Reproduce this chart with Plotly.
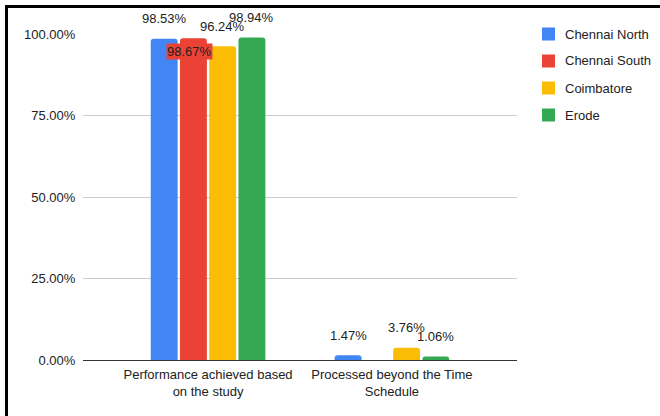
import plotly.graph_objects as go

# Categories and series
categories = ["Performance achieved based<br>on the study", "Processed beyond the Time<br>Schedule"]
series_names = ["Chennai North", "Chennai South", "Coimbatore", "Erode"]
chennai_north = [0.9853, 0.0147]
chennai_south = [0.9867, 0.0]
coimbatore = [0.9624, 0.0376]
erode = [0.9894, 0.0106]

series_values = [chennai_north, chennai_south, coimbatore, erode]
colors = ["#4285F4", "#EA4335", "#FBBC04", "#34A853"]

FONT = "Liberation Sans, Arial, sans-serif"
TEXT = "#222222"
BARGAP = 0.364
N = len(series_names)

# Plot-area geometry in pixels (used to place the frame and legend)
W, H = 660, 416
L, R, T, B = 83, 143, 34, 56
PW, PH = W - L - R, H - T - B


def px_x(px):
    return (px - L) / PW


def px_y(py):
    return (H - B - py) / PH


fig = go.Figure()
for name, vals, col in zip(series_names, series_values, colors):
    fig.add_trace(go.Bar(
        x=categories, y=vals, name=name,
        marker=dict(color=col, cornerradius=3, line=dict(width=0)),
        hoverinfo="skip", showlegend=False,
    ))

# Value labels above each bar (the Chennai South label sits inside its bar)
slot = (1 - BARGAP) / N
annotations = []
for si, (vals, col) in enumerate(zip(series_values, colors)):
    for ci, v in enumerate(vals):
        if v == 0:
            continue
        xpos = ci + (si - (N - 1) / 2) * slot
        inside = series_names[si] == "Chennai South"
        annotations.append(dict(
            x=xpos, y=v, xref="x", yref="y",
            text=f"{v*100:.2f}%", showarrow=False,
            yanchor="middle", xanchor="center",
            yshift=-13 if inside else 20,
            xshift=-4 if inside else 0,
            font=dict(family=FONT, size=13, color=TEXT),
            bgcolor=col if inside else None, borderpad=0,
        ))

# Frame on the left and top edges of the page
shapes = [
    dict(type="line", xref="paper", yref="paper",
         x0=px_x(6.5), x1=px_x(680), y0=px_y(6.5), y1=px_y(6.5),
         line=dict(color="black", width=3)),
    dict(type="line", xref="paper", yref="paper",
         x0=px_x(6.5), x1=px_x(6.5), y0=px_y(5), y1=px_y(430),
         line=dict(color="black", width=3)),
]

# Legend: colour swatch plus series name, one row per series
LEG_X, LEG_Y0, LEG_DY, SW = 542, 34, 27, 13
for i, (name, col) in enumerate(zip(series_names, colors)):
    cy = LEG_Y0 + i * LEG_DY
    shapes.append(dict(
        type="rect", xref="paper", yref="paper",
        x0=px_x(LEG_X), x1=px_x(LEG_X + SW),
        y0=px_y(cy + SW / 2), y1=px_y(cy - SW / 2),
        fillcolor=col, line=dict(width=0),
    ))
    annotations.append(dict(
        x=px_x(LEG_X + SW + 8), y=px_y(cy), xref="paper", yref="paper",
        text=name, showarrow=False, xanchor="left", yanchor="middle",
        font=dict(family=FONT, size=13, color=TEXT),
    ))

fig.update_layout(
    width=W, height=H,
    margin=dict(l=L, r=R, t=T, b=B),
    paper_bgcolor="white", plot_bgcolor="white",
    barmode="group", bargap=BARGAP, bargroupgap=0.08,
    font=dict(family=FONT, size=13, color=TEXT),
    xaxis=dict(range=[-0.68, 1.68], showgrid=False,
               ticks="outside", ticklen=2, tickcolor="rgba(0,0,0,0)",
               tickfont=dict(size=13, color=TEXT), showline=False),
    yaxis=dict(range=[0, 1], dtick=0.25, tickformat=".2%",
               gridcolor="#CCCCCC", gridwidth=1,
               zeroline=True, zerolinecolor="#333333", zerolinewidth=1,
               ticks="outside", ticklen=4, tickcolor="rgba(0,0,0,0)",
               tickfont=dict(size=13, color=TEXT)),
    annotations=annotations,
    shapes=shapes,
    showlegend=False,
)

fig.write_html("out.html")
